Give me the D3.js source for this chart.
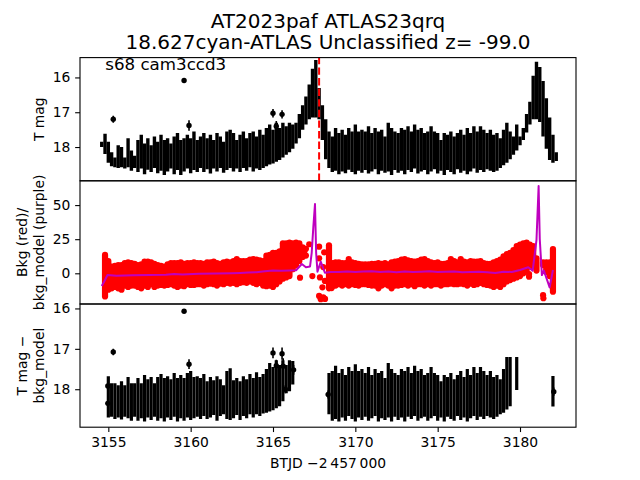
<!DOCTYPE html>
<html><head><meta charset="utf-8">
<script src="https://cdnjs.cloudflare.com/ajax/libs/d3/7.8.5/d3.min.js"></script>
<style>html,body{margin:0;padding:0;background:#fff}svg{display:block}text{font-family:"DejaVu Sans";fill:#000}</style>
</head><body><svg id="c" width="640" height="480"></svg>
<script>
const titleLines = ["AT2023paf  ATLAS23qrq", "18.627cyan-ATLAS Unclassified z= -99.0"];
const note = "s68 cam3ccd3";
const xLabel = "BTJD \u22122\u2009457\u2009000";
const xTicks = [3155, 3160, 3165, 3170, 3175, 3180];
const magTicks = [16, 17, 18];
const bkgTicks = [0, 25, 50];
const eventTime = 3167.8;

const times = [
3154.6,3154.8,3155.0,3155.2,3155.4,3155.6,3155.8,3156.0,3156.2,3156.4,
3156.6,3156.8,3157.0,3157.2,3157.4,3157.6,3157.8,3158.0,3158.2,3158.4,
3158.6,3158.8,3159.0,3159.2,3159.4,3159.6,3159.8,3160.0,3160.2,3160.4,
3160.6,3160.8,3161.0,3161.2,3161.4,3161.6,3161.8,3162.0,3162.2,3162.4,
3162.6,3162.8,3163.0,3163.2,3163.4,3163.6,3163.8,3164.0,3164.2,3164.4,
3164.6,3164.8,3165.0,3165.2,3165.4,3165.6,3165.8,3166.0,3166.2,3166.4,
3166.6,3166.8,3167.0,3167.2,3167.4,3167.6,3167.8,3168.0,3168.2,3168.4,
3168.6,3168.8,3169.0,3169.2,3169.4,3169.6,3169.8,3170.0,3170.2,3170.4,
3170.6,3170.8,3171.0,3171.2,3171.4,3171.6,3171.8,3172.0,3172.2,3172.4,
3172.6,3172.8,3173.0,3173.2,3173.4,3173.6,3173.8,3174.0,3174.2,3174.4,
3174.6,3174.8,3175.0,3175.2,3175.4,3175.6,3175.8,3176.0,3176.2,3176.4,
3176.6,3176.8,3177.0,3177.2,3177.4,3177.6,3177.8,3178.0,3178.2,3178.4,
3178.6,3178.8,3179.0,3179.2,3179.4,3179.6,3179.8,3180.0,3180.2,3180.4,
3180.6,3180.8,3181.0,3181.2,3181.4,3181.6,3181.8,3182.0,3182.2];

const magHigh = [
17.85,17.62,17.85,18.15,18.3,17.95,18.0,18.3,17.75,18.1,
18.25,17.8,17.65,17.9,17.75,17.95,17.7,17.85,17.65,17.8,
17.75,17.9,17.7,17.6,17.8,17.75,17.65,17.75,17.55,17.8,
17.7,17.6,17.75,17.65,17.8,17.6,17.7,17.85,17.55,17.5,
17.6,17.8,17.65,17.55,17.75,17.6,17.55,17.7,17.5,17.65,
17.45,17.35,17.5,17.3,17.45,17.3,17.4,17.3,17.35,17.3,
17.05,16.8,16.55,16.2,15.75,15.5,16.3,16.8,17.2,17.55,
17.7,17.45,17.6,17.5,17.65,17.45,17.55,17.35,17.55,17.5,
17.55,17.4,17.6,17.45,17.55,17.5,17.7,17.3,17.45,17.55,
17.6,17.45,17.5,17.4,17.55,17.35,17.5,17.45,17.6,17.55,
17.4,17.55,17.6,17.8,17.6,17.65,17.55,17.7,17.6,17.5,
17.65,17.45,17.6,17.4,17.55,17.4,17.5,17.6,17.5,17.65,
17.6,17.75,17.5,17.3,17.55,17.7,17.35,17.7,17.45,17.05,
16.7,15.95,15.55,15.7,16.1,16.6,17.15,17.65,18.15];
const magLow = [
18.0,18.2,18.45,18.55,18.58,18.6,18.58,18.62,18.58,18.68,
18.6,18.72,18.62,18.78,18.65,18.72,18.6,18.75,18.68,18.8,
18.7,18.62,18.78,18.66,18.8,18.7,18.62,18.75,18.66,18.72,
18.6,18.72,18.64,18.76,18.62,18.7,18.6,18.74,18.66,18.6,
18.7,18.62,18.72,18.6,18.68,18.58,18.7,18.62,18.66,18.6,
18.55,18.5,18.47,18.42,18.37,18.3,18.22,18.15,18.05,17.9,
17.75,17.5,17.35,17.2,17.15,17.15,17.2,17.8,18.35,18.6,
18.72,18.68,18.78,18.7,18.75,18.65,18.72,18.78,18.68,18.74,
18.66,18.76,18.7,18.64,18.78,18.68,18.74,18.7,18.8,18.66,
18.74,18.68,18.78,18.66,18.72,18.62,18.76,18.7,18.66,18.78,
18.7,18.64,18.76,18.68,18.8,18.66,18.72,18.78,18.64,18.74,
18.68,18.78,18.7,18.62,18.74,18.66,18.72,18.64,18.68,18.72,
18.68,18.6,18.52,18.45,18.35,18.22,18.1,17.95,17.8,17.58,
17.35,17.2,17.2,17.28,17.7,18.05,18.37,18.45,18.4];
const magOutT = [3155.3,3159.6,3159.9,3165.0,3165.55,3165.2];
const magOutV = [17.2,16.09,17.38,17.03,17.06,17.4];
const magOutE = [0.1,0.03,0.15,0.12,0.12,0.15];

const bkgHigh = [
null,13.5,9,5,5.5,6,6,7.5,8,7.5,
7,6,6.5,8.5,8.5,8,7,6,5.5,5,
6.5,7.5,7.5,7.5,8,7,7.5,7.5,8,7.5,
7.5,7,8,8,8.5,7.5,7,8,8.5,8,
9,10.5,9,9,9,10,10.5,10,9.5,9,
13,13.5,15,15,16,22,22,22.5,22,22.5,
22,19,null,null,null,null,null,null,null,20.5,
7.5,8,8,7.5,7.5,10.5,8,7.5,7,6.5,
6.5,6.5,7,7,7.5,7,7.5,6.5,8,8.5,
9,10,10.5,9.5,9,8.5,9,10,10.5,9,
8,7.5,8,7,7,7.5,10.5,9,8,10.5,
8.5,8,9,8.5,8.5,9,7.5,7,7,8,
9,10,12.5,14,15,17,20,21,22,22.5,
21,20,11,null,8,8,8,17.8,null];
const bkgLow = [
null,-17,-12,-11,-10,-11,-12,-9,-10,-9,
-9,-10,-11,-9,-10,-8,-10,-9,-8.5,-9,
-8.5,-8,-9,-10,-9,-9.5,-8,-8.5,-8.5,-8,
-8,-9,-8,-7.5,-8,-9,-7.5,-8,-7,-7.5,
-7,-8,-7,-6.5,-7,-6,-7,-8,-7,-9,
-9.5,-9,-10,-8,-6,-4,-3,-2,3,6,
9,12,null,null,null,null,null,null,null,-11,
-9.5,-9,-8,-9,-8,-9,-8,-8.5,-9,-8,
-8,-8.5,-9,-9,-11,-9,-8,-9,-11,-9,
-9,-8.5,-8,-9,-8,-9.5,-8,-8,-9,-8,
-9,-8,-8,-9,-8,-8,-7.5,-8,-8,-7.5,
-8,-9,-7.5,-8.5,-8,-7,-8,-8.5,-9,-10,
-9,-10,-8,-6,-5,-4,-3,-2,0,2,
5,5,2,null,6,1,-2,-13.5,null];
const bkgScatterT = [3166.64,3167.39,3167.2,3167.8,3168.11,3167.8,3168.05,3167.85,3168.15,3168.0,3168.56,3167.8,3168.05,3168.16,3167.9,3167.0,3167.0,3166.9,3180.55,3180.55,3181.4,3181.42,3181.6,3181.8,3181.4];
const bkgScatterV = [-3.2,-2,21.3,19.5,15.4,11,4.6,-3,-5.6,-10.3,-10.8,-16.6,-17.6,-18.8,-19,13,18,16,-2.5,-0.5,-16,-18.3,2.4,7.5,7.5];

const modelT = [3154.6,3154.75,3154.95,3155.5,3156.5,3157.5,3158.5,3159,3159.5,3160.5,3161.5,3162.5,3163,3163.5,3164,3164.5,3165,3165.5,3166,3166.4,3166.75,3167,3167.25,3167.35,3167.45,3167.55,3167.62,3167.7,3167.9,3168.15,3168.5,3169,3169.5,3170,3170.5,3171,3171.5,3172,3172.5,3173,3173.5,3174,3174.5,3175,3175.5,3176,3176.5,3177,3177.5,3178,3178.5,3179,3179.5,3180,3180.5,3180.77,3181,3181.13,3181.2,3181.33,3181.45,3181.8,3182];
const modelV = [-9.3,-6,-1.3,-1.8,-1.5,-1.3,-1.1,-0.5,-0.9,-0.3,-0.2,0,0.2,0.5,0.8,1.5,2,1.8,2,2.2,6.8,4.4,5,15,34,50.8,15,1.2,8.5,0.4,1,1,1.4,1,1.3,1.5,0.9,1.4,0.8,1.3,1,1.2,1.5,0.9,1.2,1.3,0.8,1,1.1,0.7,0.2,1.2,1,2.4,4.4,2,24.4,64,25,-1.3,2,-10.3,2.4];

const cleanHigh = [
null,null,17.68,17.85,17.85,17.9,17.8,17.9,17.7,17.85,
17.85,17.72,17.85,17.65,17.75,17.7,17.85,17.7,17.62,17.72,
17.68,17.75,17.6,17.72,17.65,17.72,17.6,17.55,17.7,17.68,
17.72,17.62,17.8,17.7,17.78,17.68,17.75,17.9,17.55,17.48,
17.78,17.72,17.8,17.68,17.75,17.62,17.72,17.58,17.7,17.62,
17.5,17.35,17.45,17.28,17.4,17.28,17.4,17.28,17.3,null,
null,null,null,null,null,null,null,null,null,17.6,
17.55,17.42,17.6,17.5,17.65,17.45,17.55,17.38,17.55,17.5,
17.6,17.45,17.65,17.5,17.6,17.55,17.72,17.35,17.5,17.6,
17.65,17.5,17.55,17.45,17.6,17.42,17.55,17.5,17.65,17.6,
17.45,17.6,17.65,17.8,17.65,17.7,17.6,17.75,17.65,17.55,
17.7,17.5,17.65,17.45,17.6,17.45,17.55,17.65,17.55,17.7,
17.65,17.75,17.5,17.2,17.2,null,17.2,null,null,null,
null,null,null,null,null,null,null,17.67,null];
const cleanLow = [
null,null,18.7,18.68,18.74,18.7,18.75,18.68,18.72,18.78,
18.68,18.78,18.72,18.8,18.7,18.76,18.68,18.78,18.72,18.8,
18.7,18.76,18.68,18.8,18.72,18.78,18.7,18.76,18.72,18.68,
18.74,18.66,18.74,18.7,18.64,18.78,18.66,18.62,18.74,18.76,
18.72,18.64,18.76,18.66,18.72,18.62,18.7,18.62,18.66,18.6,
18.58,18.55,18.52,18.47,18.42,18.3,18.1,18.05,17.88,null,
null,null,null,null,null,null,null,null,null,18.62,
18.78,18.74,18.8,18.7,18.78,18.66,18.74,18.8,18.7,18.76,
18.68,18.78,18.72,18.66,18.8,18.72,18.76,18.7,18.8,18.68,
18.76,18.7,18.8,18.68,18.74,18.66,18.78,18.72,18.68,18.78,
18.72,18.66,18.78,18.7,18.8,18.68,18.74,18.78,18.66,18.76,
18.7,18.8,18.72,18.66,18.76,18.68,18.74,18.66,18.7,18.74,
18.68,18.62,18.58,18.5,18.42,null,18.02,null,null,null,
null,null,null,null,null,null,null,18.43,null];
const cleanOutT = [3155.3,3159.6,3159.9,3165.0,3165.55,3165.2,3165.62,3166.25,3165.75,3154.97,3154.97,3168.35,3182.05];
const cleanOutV = [17.08,16.07,17.38,17.1,17.12,17.42,17.43,17.52,18.0,17.92,18.35,18.13,18.06];
const cleanOutE = [0.08,0.04,0.12,0.13,0.15,0.15,0.2,0.12,0.1,0.1,0.1,0.1,0.1];

const svg = d3.select("#c");
const L = 80, R = 576, panelTops = [57.6, 180.8, 304], H = 123.2;
const x = d3.scaleLinear().domain([3153.28, 3183.4]).range([L, R]);
const yTop = d3.scaleLinear().domain([15.43, 18.97]).range([panelTops[0], panelTops[0] + H]);
const yMid = d3.scaleLinear().domain([67.8, -22.5]).range([panelTops[1], panelTops[1] + H]);
const yBot = d3.scaleLinear().domain([15.89, 18.94]).range([panelTops[2], panelTops[2] + H]);

const defs = svg.append("defs");
panelTops.forEach((t, i) => defs.append("clipPath").attr("id", "p" + i)
  .append("rect").attr("x", L).attr("y", t).attr("width", R - L).attr("height", H));

function bars(g, y, hi, lo, color, w, cap) {
  const idx = d3.range(times.length).filter(i => hi[i] != null && lo[i] != null);
  g.selectAll(null).data(idx).join("line")
    .attr("x1", i => x(times[i])).attr("x2", i => x(times[i]))
    .attr("y1", i => y(hi[i])).attr("y2", i => y(lo[i]))
    .attr("stroke", color).attr("stroke-width", w).attr("stroke-linecap", cap);
}
function outliers(g, y, ts, vs, es) {
  g.selectAll(null).data(ts).join("line")
    .attr("x1", d => x(d)).attr("x2", d => x(d))
    .attr("y1", (d, i) => y(vs[i] - es[i])).attr("y2", (d, i) => y(vs[i] + es[i]))
    .attr("stroke", "#000").attr("stroke-width", 1.6);
  g.selectAll(null).data(ts).join("circle")
    .attr("cx", d => x(d)).attr("cy", (d, i) => y(vs[i])).attr("r", 2.7).attr("fill", "#000");
}

const g0 = svg.append("g").attr("clip-path", "url(#p0)");
bars(g0, yTop, magHigh, magLow, "#000", 3.4, "butt");
outliers(g0, yTop, magOutT, magOutV, magOutE);
g0.append("line").attr("x1", x(eventTime)).attr("x2", x(eventTime))
  .attr("y1", panelTops[0] + H).attr("y2", panelTops[0])
  .attr("stroke", "#f00").attr("stroke-width", 2).attr("stroke-dasharray", "7.4,3.2");

const g1 = svg.append("g").attr("clip-path", "url(#p1)");
bars(g1, yMid, bkgHigh, bkgLow, "#f00", 6.2, "round");
g1.selectAll(null).data(bkgScatterT).join("circle")
  .attr("cx", d => x(d)).attr("cy", (d, i) => yMid(bkgScatterV[i])).attr("r", 3.1).attr("fill", "#f00");
g1.append("path").datum(modelT)
  .attr("d", d3.line().x(d => x(d)).y((d, i) => yMid(modelV[i])))
  .attr("fill", "none").attr("stroke", "#bf00bf").attr("stroke-width", 2).attr("stroke-linejoin", "round");

const g2 = svg.append("g").attr("clip-path", "url(#p2)");
bars(g2, yBot, cleanHigh, cleanLow, "#000", 3.2, "butt");
outliers(g2, yBot, cleanOutT, cleanOutV, cleanOutE);

function styleAxis(a) {
  a.select(".domain").remove();
  a.selectAll("line").attr("stroke", "#000").attr("stroke-width", 1.1);
  a.selectAll("text").attr("font-family", "DejaVu Sans").attr("font-size", 13.89).attr("fill", "#000");
}
[[yTop, magTicks], [yMid, bkgTicks], [yBot, magTicks]].forEach(([s, t]) => {
  svg.append("g").attr("transform", `translate(${L},0)`)
    .call(d3.axisLeft(s).tickValues(t).tickFormat(d3.format("d")).tickSize(4.86).tickPadding(4.86))
    .call(styleAxis);
});
svg.append("g").attr("transform", `translate(0,${panelTops[2] + H})`)
  .call(d3.axisBottom(x).tickValues(xTicks).tickFormat(d3.format("d")).tickSize(4.86).tickPadding(4.86))
  .call(styleAxis);

panelTops.forEach(t => svg.append("rect").attr("x", L).attr("y", t).attr("width", R - L).attr("height", H)
  .attr("fill", "none").attr("stroke", "#000").attr("stroke-width", 1.1));

svg.append("text").attr("x", 328).attr("y", 27.5).attr("text-anchor", "middle").attr("font-size", 20).text(titleLines[0]);
svg.append("text").attr("x", 328).attr("y", 49).attr("text-anchor", "middle").attr("font-size", 20).text(titleLines[1]);
svg.append("text").attr("x", 105.3).attr("y", 70).attr("font-size", 16.67).text(note);
svg.append("text").attr("x", 328).attr("y", 468).attr("text-anchor", "middle").attr("font-size", 13.89).text(xLabel);

function yLabel(cx, cy, s) {
  svg.append("text").attr("transform", `translate(${cx},${cy}) rotate(-90)`)
    .attr("text-anchor", "middle").attr("font-size", 13.89).text(s);
}
yLabel(44, 119.2, "T mag");
yLabel(27, 242.4, "Bkg (red)/");
yLabel(44, 242.4, "bkg_model (purple)");
yLabel(27, 365.6, "T mag \u2212");
yLabel(44, 365.6, "bkg_model");
</script></body></html>
